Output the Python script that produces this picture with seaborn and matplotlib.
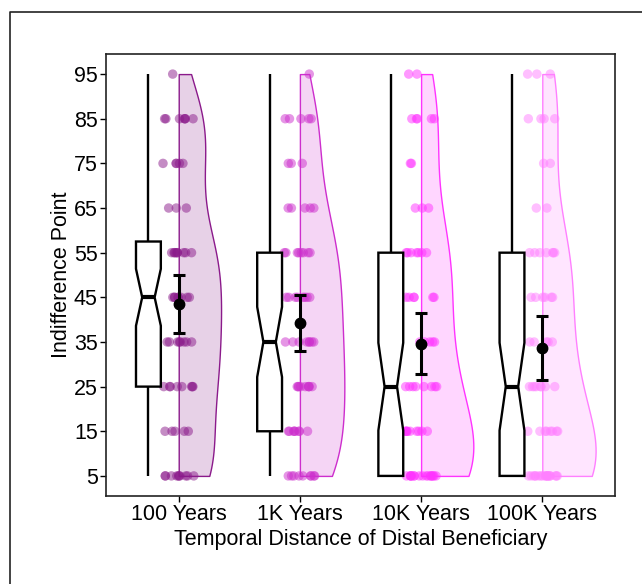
import numpy as np
import pandas as pd
import matplotlib
matplotlib.use("Agg")
import matplotlib.pyplot as plt
import seaborn as sns
from matplotlib.lines import Line2D
from matplotlib.colors import to_rgba

# ---------------- data ----------------
groups = ["100 Years", "1K Years", "10K Years", "100K Years"]
levels = [5, 15, 25, 35, 45, 55, 65, 75, 85, 95]
counts_100 = [10, 5, 8, 8, 8, 9, 3, 5, 7, 1]
counts_1k = [9, 8, 9, 8, 8, 8, 5, 3, 5, 1]
counts_10k = [17, 9, 8, 5, 6, 7, 3, 2, 5, 2]
counts_100k = [19, 8, 8, 5, 6, 7, 2, 2, 4, 3]
means = [43.5, 39.2, 34.6, 33.7]
ci_low = [36.9, 32.9, 27.8, 26.5]
ci_high = [50.1, 45.6, 41.4, 40.8]
colors = ["#8B1A8B", "#CD2ECD", "#FF33FF", "#FF80FF"]

all_counts = [counts_100, counts_1k, counts_10k, counts_100k]
rows = []
for gi, (g, cnt) in enumerate(zip(groups, all_counts)):
    for v in np.repeat(levels, cnt):
        rows.append({"group": g, "pos": float(gi), "pos_box": gi - 0.25, "value": float(v)})
df = pd.DataFrame(rows)


def nrd0(kde):
    """R's default bandwidth rule, expressed as a gaussian_kde factor."""
    x = np.asarray(kde.dataset).ravel()
    sd = x.std(ddof=1)
    q75, q25 = np.percentile(x, [75, 25])
    lo = min(sd, (q75 - q25) / 1.34)
    bw = 0.9 * lo * len(x) ** -0.2
    return bw / sd


sns.set_style("white")
plt.rcParams["font.family"] = ["Liberation Sans", "DejaVu Sans"]

W, H = 642, 584
fig = plt.figure(figsize=(W / 100, H / 100), dpi=100)
ax = fig.add_axes([106 / W, 1 - 496 / H, (615 - 106) / W, (496 - 54) / H])

# half violins (one hue-less call so that "area" scaling is shared by all groups)
n0 = len(ax.collections)
sns.violinplot(data=df, x="pos", y="value", native_scale=True, cut=0,
               density_norm="area", width=0.88, inner=None, color="gray",
               bw_method=nrd0, linewidth=1.0, ax=ax)
for coll in ax.collections[n0:]:
    paths = coll.get_paths()
    if not paths:
        continue
    allv = np.concatenate([p.vertices for p in paths])
    cx = (allv[:, 0].min() + allv[:, 0].max()) / 2
    idx = int(round(cx))
    newverts = []
    for p in paths:
        v = p.vertices.copy()
        v[:, 0] = np.maximum(v[:, 0], cx)
        newverts.append(v)
    coll.set_verts(newverts)
    coll.set_facecolor(to_rgba(colors[idx], 0.2))
    coll.set_edgecolor(to_rgba(colors[idx], 1.0))
    coll.set_linewidth(1.0)
    coll.set_zorder(1)

# jittered points
np.random.seed(7)
sns.stripplot(data=df, x="pos", y="value", hue="group", hue_order=groups,
              palette=colors, native_scale=True, dodge=False, jitter=0.13,
              size=6.8, alpha=0.5, linewidth=0, legend=False, ax=ax, zorder=2)

# notched boxplots
sns.boxplot(data=df, x="pos_box", y="value", native_scale=True, notch=True,
            width=0.205, color="white", linecolor="black", linewidth=1.7,
            saturation=1, showcaps=False, showfliers=False,
            medianprops=dict(linewidth=3, color="black"), ax=ax)

# mean and CI
m = np.array(means)
ax.errorbar(x=np.arange(len(groups)), y=m,
            yerr=[m - np.array(ci_low), np.array(ci_high) - m],
            fmt="o", color="black", markersize=7.5, capsize=4.5,
            elinewidth=2.2, capthick=2.2, zorder=10)

ax.set_xlim(-0.6, 3.6)
ax.set_ylim(0.5, 99.5)
ax.set_xticks(range(len(groups)))
ax.set_xticklabels(groups)
ax.set_yticks(levels)
ax.set_yticklabels([str(v) for v in levels])
ax.tick_params(axis="both", direction="out", length=4, width=1, colors="black",
               labelsize=15.5, pad=2, bottom=True, left=True)
for s in ax.spines.values():
    s.set_color("#222222")
    s.set_linewidth(1.2)
    s.set_visible(True)
ax.set_xlabel("Temporal Distance of Distal Beneficiary", fontsize=15.5,
              color="black", labelpad=3)
ax.set_ylabel("Indifference Point", fontsize=15.5, color="black", labelpad=1)

# outer frame of the figure (left and top edge)
fig.add_artist(Line2D([10 / W, 10 / W, 1.0], [0.0, 1 - 12 / H, 1 - 12 / H],
                      transform=fig.transFigure, color="#222222", linewidth=1.2))

fig.savefig("out.png", dpi=100)
